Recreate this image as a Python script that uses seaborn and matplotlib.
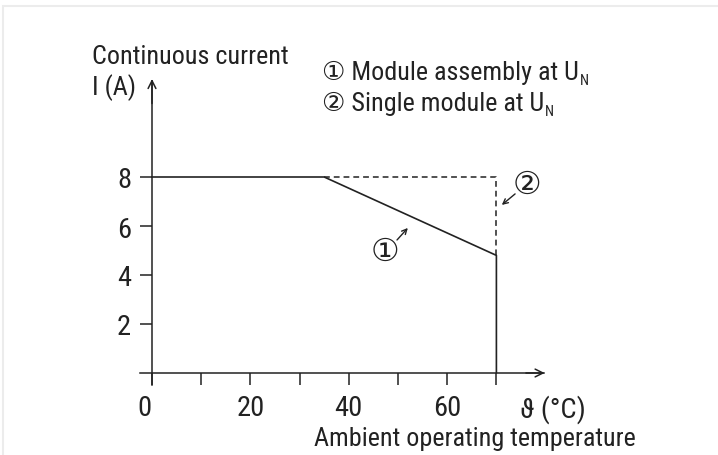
import matplotlib
matplotlib.use("Agg")
import matplotlib.pyplot as plt
import seaborn as sns
import pandas as pd
from matplotlib.patches import Rectangle
from matplotlib.transforms import offset_copy

# ---- data ----
temp_assembly = [0, 35, 70, 70]
current_assembly = [8, 8, 4.8, 0]
temp_single = [35, 70, 70]
current_single = [8, 8, 4.8]
y_ticks = [2, 4, 6, 8]
x_major = [0, 20, 40, 60]
x_minor = [10, 30, 50, 70]
y_label = ["Continuous current", "I (A)"]
x_unit = "ϑ (°C)"
x_label = "Ambient operating temperature"
legend_items = ["① Module assembly at U", "② Single module at U"]

sns.set_theme(style="white")
FONT = ["Roboto Condensed", "DejaVu Sans"]
plt.rcParams["font.family"] = FONT
INK = "#222222"
FS = 18.8
TFS = 20.5

W, H = 718, 456
fig = plt.figure(figsize=(W / 100, H / 100), dpi=100)
fig.patch.set_facecolor("white")

# map: x=0 -> px 152, 4.92 px/unit ; y=0 -> px 374, 24.5 px/unit
xmin, xmax = -5, 82
ymin, ymax = -1, 12.5
px_x0, sx = 152, 4.92
px_y0, sy = 374, 24.5
left = px_x0 + xmin * sx
right = px_x0 + xmax * sx
bottom = px_y0 - ymin * sy
top = px_y0 - ymax * sy
ax = fig.add_axes([left / W, 1 - bottom / H, (right - left) / W, (bottom - top) / H])
ax.set_xlim(xmin, xmax)
ax.set_ylim(ymin, ymax)
ax.set_facecolor("none")

df1 = pd.DataFrame({"t": temp_assembly, "i": current_assembly})
df2 = pd.DataFrame({"t": temp_single, "i": current_single})
sns.lineplot(data=df1, x="t", y="i", ax=ax, color=INK, lw=1.2, sort=False,
             estimator=None)
sns.lineplot(data=df2, x="t", y="i", ax=ax, color=INK, lw=1.1, sort=False,
             estimator=None, linestyle=(0, (3.8, 2.6)))

# axes as arrows
for s in ["top", "right"]:
    ax.spines[s].set_visible(False)
ax.spines["left"].set_position(("data", 0))
ax.spines["bottom"].set_position(("data", 0))
ax.spines["left"].set_bounds(-0.5, 11.9)
ax.spines["bottom"].set_bounds(-2.4, 79.6)
for s in ["left", "bottom"]:
    ax.spines[s].set_color(INK)
    ax.spines[s].set_linewidth(1.1)
ax.annotate("", xy=(79.8, 0), xytext=(76, 0),
            arrowprops=dict(arrowstyle="->", color=INK, lw=1.1,
                            mutation_scale=14, shrinkA=0, shrinkB=0))
ax.annotate("", xy=(0, 12.0), xytext=(0, 11),
            arrowprops=dict(arrowstyle="->", color=INK, lw=1.1,
                            mutation_scale=14, shrinkA=0, shrinkB=0))

ax.set_yticks(y_ticks)
ax.set_yticklabels([str(v) for v in y_ticks])
ax.set_xticks(x_major)
ax.set_xticklabels([str(v) for v in x_major])
ax.set_xticks(x_minor, minor=True)
ax.tick_params(axis="both", which="both", direction="out", length=8.6,
               width=1.1, color=INK, labelsize=TFS, labelcolor=INK, pad=6.5,
               left=True, bottom=True)
ax.set_xlabel("")
ax.set_ylabel("")
# shift the "0" label slightly left
lbl0 = ax.get_xticklabels()[0]
lbl0.set_transform(offset_copy(lbl0.get_transform(), fig=fig, x=-8, y=0, units="dots"))

# unit on x axis
ax.text(81.5, 0, x_unit, fontsize=TFS, color=INK, ha="center", va="top",
        family=FONT, transform=offset_copy(ax.transData, fig=fig, x=0, y=-21, units="dots"))

# figure texts (pixel positions -> fig fraction)
def ftext(x, y, s, **kw):
    return fig.text(x / W, 1 - y / H, s, fontsize=kw.pop("fontsize", FS), color=INK,
                    family=FONT, **kw)

ftext(92, 64, y_label[0], va="baseline", ha="left")
ftext(92, 95, y_label[1], va="baseline", ha="left")
ftext(314, 446, x_label, va="baseline", ha="left")

for txt, yb in zip(legend_items, [80, 111]):
    t = ftext(322, yb, txt, va="baseline", ha="left")
    ax.annotate("N", xy=(1, 0), xycoords=t, xytext=(0.5, 0), textcoords="offset points",
                fontsize=10.5, color=INK, family=FONT, ha="left", va="baseline")

# callouts
ax.text(47.4, 4.98, "①", fontsize=23, color=INK, ha="center", va="center",
        family=["DejaVu Sans"])
ax.annotate("", xy=(52.0, 5.92), xytext=(49.8, 5.43),
            arrowprops=dict(arrowstyle="->", color=INK, lw=1.0, mutation_scale=9,
                            shrinkA=0, shrinkB=0))
ax.text(76.2, 7.71, "②", fontsize=23, color=INK, ha="center", va="center",
        family=["DejaVu Sans"])
ax.annotate("", xy=(71.1, 6.86), xytext=(73.8, 7.31),
            arrowprops=dict(arrowstyle="->", color=INK, lw=1.0, mutation_scale=9,
                            shrinkA=0, shrinkB=0))

# faint frame at top/left edge
fig.patches.append(Rectangle((2.5 / W, -0.1), 1.2, (1 - 7 / H) + 0.1,
                             transform=fig.transFigure, fill=False,
                             edgecolor="#ececec", lw=1.5))

fig.savefig("out.png", dpi=100, facecolor="white")
